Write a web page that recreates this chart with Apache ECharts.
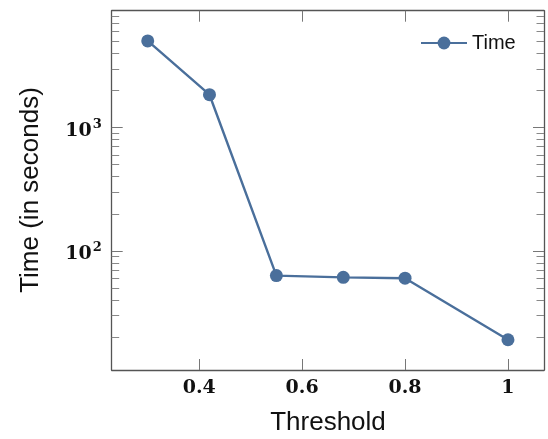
<!DOCTYPE html>
<html>
<head>
<meta charset="utf-8">
<script src="https://cdn.jsdelivr.net/npm/echarts@6/dist/echarts.min.js"></script>
<style>html,body{margin:0;padding:0;background:#fff;}#c{width:548px;height:439px;}</style>
</head>
<body>
<div id="c"></div>
<script>
const thresholds = [0.3, 0.42, 0.55, 0.68, 0.8, 1.0];
const timeValues = [5050, 1850, 63, 61, 60, 19];
const xTicks = [0.4, 0.6, 0.8, 1];
const yMajorTicks = [100, 1000];
const yMinorTicks = [20, 30, 40, 50, 60, 70, 80, 90, 200, 300, 400, 500, 600, 700, 800, 900, 2000, 3000, 4000, 5000, 6000, 7000, 8000];
const seriesName = 'Time';

const color = '#4a6f9b';
const axisColor = '#555';
const xMin = 0.23, xMax = 1.07, yMin = 10.8, yMax = 8890;

const chart = echarts.init(document.getElementById('c'));
const labelFont = {fontFamily: 'DejaVu Serif', fontWeight: 'bold', fontSize: 19, color: '#111'};

function yAxisDef(pos, minor, withLabel, withLine) {
  return {
    type: 'log', min: yMin, max: yMax, position: pos,
    axisLine: {show: withLine, lineStyle: {color: axisColor, width: 1.3}},
    axisTick: {show: true, inside: true, length: minor ? 7.5 : 11,
      customValues: minor ? yMinorTicks : yMajorTicks,
      lineStyle: {color: minor ? '#888' : '#777', width: 1}},
    axisLabel: withLabel ? {
      show: true, margin: 10, customValues: yMajorTicks,
      formatter: v => '{b|10}{s|' + Math.round(Math.log10(v)) + '}',
      rich: {
        b: Object.assign({}, labelFont, {fontSize: 19, padding: [6, 0, 0, 0]}),
        s: Object.assign({}, labelFont, {fontSize: 13, padding: [0, 0, 6, 1]})
      }
    } : {show: false},
    splitLine: {show: false}, minorTick: {show: false}
  };
}

function xAxisDef(pos, withLabel) {
  return {
    type: 'value', min: xMin, max: xMax, position: pos,
    axisLine: {show: true, onZero: false, lineStyle: {color: axisColor, width: 1.3}},
    axisTick: {show: true, inside: true, length: 11, customValues: xTicks,
      lineStyle: {color: '#777', width: 1}},
    axisLabel: withLabel ? Object.assign({show: true, margin: 9, customValues: xTicks,
      formatter: v => String(v)}, labelFont) : {show: false},
    splitLine: {show: false}
  };
}

chart.setOption({
  animation: false,
  backgroundColor: '#fff',
  grid: {left: 111.7, right: 4, top: 10.7, bottom: 69, containLabel: false},
  legend: {
    data: [seriesName], left: 420, top: 33, padding: 0, itemWidth: 46, itemHeight: 16, itemGap: 5,
    textStyle: {fontFamily: 'Liberation Sans', fontSize: 20, color: '#111'}
  },
  xAxis: [xAxisDef('bottom', true), xAxisDef('top', false)],
  yAxis: [yAxisDef('left', false, true, true), yAxisDef('left', true, false, false),
          yAxisDef('right', false, false, true), yAxisDef('right', true, false, false)],
  graphic: [
    {type: 'text', x: 31, y: 190, rotation: Math.PI / 2,
      style: {text: 'Time (in seconds)', fontFamily: 'Liberation Sans', fontSize: 26, fill: '#111',
        x: 0, y: 0, align: 'center', verticalAlign: 'middle'}},
    {type: 'text', x: 328, y: 423,
      style: {text: 'Threshold', fontFamily: 'Liberation Sans', fontSize: 26, fill: '#111',
        x: 0, y: 0, align: 'center', verticalAlign: 'middle'}}
  ],
  series: [{
    name: seriesName, type: 'line', xAxisIndex: 0, yAxisIndex: 0,
    data: thresholds.map((t, i) => [t, timeValues[i]]),
    symbol: 'circle', symbolSize: 13,
    lineStyle: {color: color, width: 2.4},
    itemStyle: {color: color}
  }]
});
</script>
</body>
</html>
